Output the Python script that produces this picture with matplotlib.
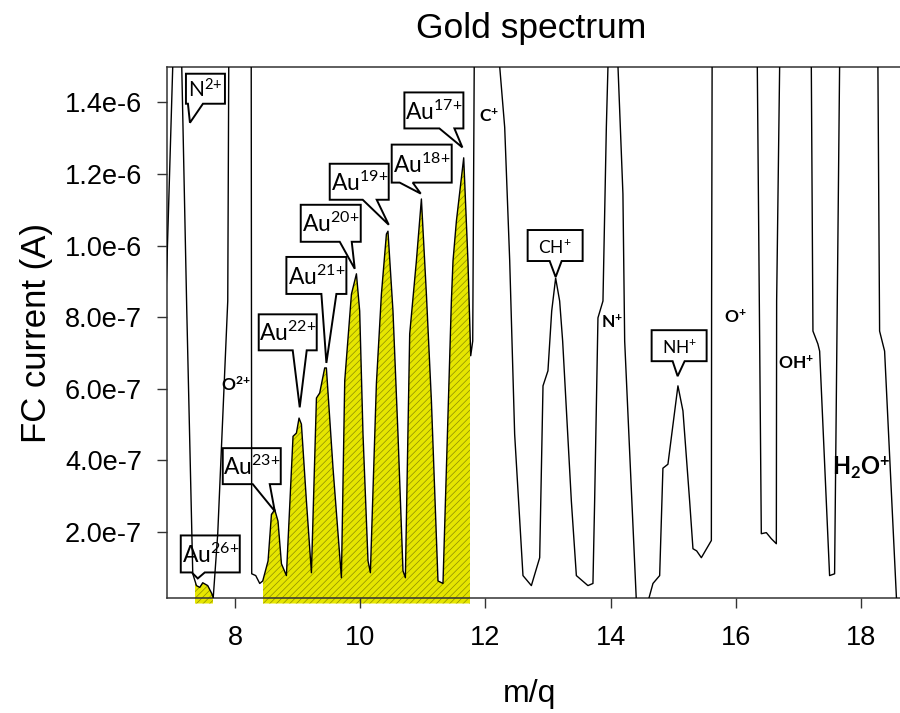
import numpy as np
import matplotlib
matplotlib.use("Agg")
import matplotlib.pyplot as plt
from matplotlib.patches import Polygon, Rectangle
from matplotlib.transforms import IdentityTransform

# spectrum trace: m/q and FC current in units of 1e-7 A
# peaks that leave the top of the plot get a rough 2.5e-6, they are clipped anyway
mq = [6.90, 7.003, 7.08, 7.147, 7.227, 7.323, 7.382, 7.435, 7.482, 7.562,
      7.626, 7.650, 7.722, 7.882, 7.898, 8.08, 8.257, 8.265, 8.329, 8.393,
      8.441, 8.526, 8.580, 8.633, 8.685, 8.740, 8.819, 8.925, 8.979, 9.021,
      9.059, 9.139, 9.219, 9.299, 9.351, 9.431, 9.458, 9.564, 9.698, 9.751,
      9.858, 9.938, 9.990, 10.043, 10.123, 10.161, 10.257, 10.337, 10.417, 10.442,
      10.522, 10.602, 10.682, 10.720, 10.789, 10.896, 10.976, 11.056, 11.136, 11.241,
      11.321, 11.375, 11.455, 11.481, 11.535, 11.652, 11.720, 11.764, 11.796, 11.820,
      12.05, 12.227, 12.307, 12.387, 12.466, 12.599, 12.733, 12.866, 12.919, 12.998,
      13.058, 13.121, 13.185, 13.233, 13.372, 13.452, 13.637, 13.717, 13.744, 13.797,
      13.877, 13.931, 13.957, 14.04, 14.117, 14.196, 14.224, 14.411, 14.596, 14.676,
      14.783, 14.835, 14.915, 15.075, 15.155, 15.262, 15.315, 15.374, 15.449, 15.609,
      15.613, 15.621, 15.98, 16.343, 16.380, 16.407, 16.487, 16.567, 16.647, 16.652,
      16.700, 16.95, 17.206, 17.232, 17.311, 17.339, 17.498, 17.578, 17.621, 17.658,
      17.96, 18.270, 18.297, 18.377, 18.569, 18.70]
current_e7 = [8.9, 15.0, 25.0, 15.0, 8.2, 0.83, 0.50, 0.45, 0.58, 0.50,
              0.28, 0.16, 1.95, 8.45, 15.0, 25.0, 15.0, 0.83, 0.78, 0.56,
              0.63, 1.19, 2.49, 2.62, 2.30, 1.11, 0.78, 4.67, 4.76, 5.18,
              5.01, 2.86, 0.86, 5.74, 5.88, 6.58, 6.58, 3.78, 0.72, 6.22,
              8.64, 9.21, 8.17, 4.73, 1.19, 0.86, 6.14, 8.64, 10.32, 10.40,
              8.17, 4.73, 0.91, 0.72, 7.53, 9.57, 11.30, 8.64, 5.66, 0.63,
              0.56, 3.78, 8.45, 9.57, 10.68, 12.45, 9.57, 6.92, 7.33, 15.0,
              25.0, 15.0, 13.30, 9.57, 4.73, 0.78, 0.50, 1.28, 6.08, 6.50,
              8.17, 9.09, 8.45, 7.33, 2.86, 0.78, 0.50, 0.56, 2.86, 7.98,
              8.45, 13.30, 15.0, 25.0, 15.0, 11.44, 7.33, 0.05, 0.05, 0.56,
              0.78, 3.78, 3.89, 6.08, 5.38, 2.86, 1.53, 1.47, 1.28, 1.76,
              8.45, 15.0, 25.0, 15.0, 7.33, 1.95, 1.98, 1.81, 1.67, 8.45,
              15.0, 25.0, 15.0, 7.61, 7.25, 7.05, 0.78, 0.83, 8.45, 15.0,
              25.0, 15.0, 7.61, 7.05, 0.05, -0.5]

# m/q ranges shaded as gold
gold_bands = [(7.355, 7.645), (8.445, 11.75)]

xticks = [8, 10, 12, 14, 16, 18]
yticks = [2e-7, 4e-7, 6e-7, 8e-7, 1.0e-6, 1.2e-6, 1.4e-6]
ytick_labels = ["2.0e-7", "4.0e-7", "6.0e-7", "8.0e-7", "1.0e-6", "1.2e-6", "1.4e-6"]

# callout boxes: text and where the pointer ends (m/q, current 1e-7 A)
callout_text = [r"N$^{2{+}}$", r"Au$^{26{+}}$", r"Au$^{23{+}}$", r"Au$^{22{+}}$", r"Au$^{21{+}}$",
                r"Au$^{20{+}}$", r"Au$^{19{+}}$", r"Au$^{18{+}}$", r"Au$^{17{+}}$",
                r"CH$^{{+}}$", r"NH$^{{+}}$"]
callout_x = [7.278, 7.403, 8.633, 9.032, 9.458, 9.911, 10.454, 10.965, 11.631, 13.121, 15.070]
callout_y = [13.43, 0.70, 2.58, 5.48, 6.72, 9.35, 10.58, 11.45, 12.74, 9.12, 6.35]

# plain ion labels
ion_text = [r"O$^{\mathbf{2{+}}}$", r"C$^{\mathbf{{+}}}$", r"N$^{\mathbf{{+}}}$", r"O$^{\mathbf{{+}}}$",
            r"OH$^{\mathbf{{+}}}$", r"H$_{\mathbf{2}}$O$^{\mathbf{{+}}}$"]
ion_x = [8.01, 12.05, 14.02, 16.0, 16.955, 18.01]
ion_y = [6.12, 13.62, 7.84, 8.0, 6.71, 3.79]

plt.rcParams["font.family"] = ["Liberation Sans", "DejaVu Sans"]
plt.rcParams["mathtext.fontset"] = "custom"
plt.rcParams["mathtext.rm"] = "Lato"
plt.rcParams["mathtext.bf"] = "Lato:bold"
plt.rcParams["mathtext.it"] = "Lato:italic"
plt.rcParams["hatch.linewidth"] = 0.5

x = np.array(mq)
y = np.array(current_e7) * 1e-7

fig = plt.figure(figsize=(9, 7.13), dpi=100)
ax = fig.add_axes([0.1856, 0.1606, 0.8144, 0.7461])
ax.set_xlim(6.912, 18.623)
ax.set_ylim(1.4e-8, 1.5e-6)

for lo, hi in gold_bands:
    band = ax.fill_between(x, y, 0, facecolor="#e6e600", edgecolor="#8c8c00",
                           hatch="/////", linewidth=0, zorder=1)
    clip = Rectangle((lo, -1e-6), hi - lo, 1e-5, transform=ax.transData)
    band.set_clip_path(clip)

ax.plot(x, y, color="black", lw=1.0, zorder=3)

# speech-bubble callouts, geometry in pixels around the pointer tip
boxes = [(-4, 35, 19, 49, -2, 13), (-17, 42, 6, 43, -6, 7), (-52, 6, 27, 63, -22, -5),
         (-41, 17, 57, 93, -7, 7), (-40, 20, 69, 106, -5, 10), (-54, 6, 27, 64, -15, -3),
         (-59, 0, 25, 61, -26, -12), (-29, 31, 11, 49, -21, -8), (-58, 1, 19, 55, -23, -8),
         (-28, 27, 16, 47, -6, 6), (-26, 29, 15, 46, -5, 7)]
sizes = [15, 16.5, 16.5, 16.5, 16.5, 16.5, 16.5, 16.5, 16.5, 12.5, 12.5]
for txt, cx, cy, (l, r, b, t, nl, nr), fs in zip(callout_text, callout_x, callout_y, boxes, sizes):
    tx, ty = ax.transData.transform((cx, cy * 1e-7))
    pts = [(nl, b), (0, 0), (nr, b), (r, b), (r, t), (l, t), (l, b)]
    poly = Polygon([(tx + px, ty + py) for px, py in pts], closed=True,
                   facecolor="white", edgecolor="black", lw=1.4,
                   transform=IdentityTransform(), zorder=2.5)
    ax.add_artist(poly)
    ax.annotate(txt, xy=(cx, cy * 1e-7), xytext=((l + r) / 2, (b + t) / 2 - 1),
                textcoords="offset pixels", ha="center", va="center",
                fontsize=fs, family="Lato", zorder=4)

ion_sizes = [12.5, 12.5, 12.5, 12.5, 12.5, 17]
for txt, ix, iy, fs in zip(ion_text, ion_x, ion_y, ion_sizes):
    ax.text(ix, iy * 1e-7, txt, ha="center", va="center", fontsize=fs,
            family="Lato", fontweight="bold", zorder=4)

ax.set_xticks(xticks)
ax.set_yticks(yticks)
ax.set_yticklabels(ytick_labels)
ax.tick_params(axis="both", direction="out", length=7, width=1.0, labelsize=19.5,
               color="#333333")
ax.tick_params(axis="x", pad=12)
ax.tick_params(axis="y", pad=11)
ax.spines["right"].set_visible(False)
for s in ("left", "bottom", "top"):
    ax.spines[s].set_linewidth(1.1)
    ax.spines[s].set_color("#333333")

ax.set_xlabel("m/q", fontsize=23)
ax.xaxis.set_label_coords(0.495, -0.152)
ax.set_ylabel("FC current (A)", fontsize=25)
ax.yaxis.set_label_coords(-0.156, 0.5)
ax.text(0.497, 1 + 29 / 532, "Gold spectrum", transform=ax.transAxes,
        ha="center", va="baseline", fontsize=25.5)

fig.savefig("out.png", dpi=100)
